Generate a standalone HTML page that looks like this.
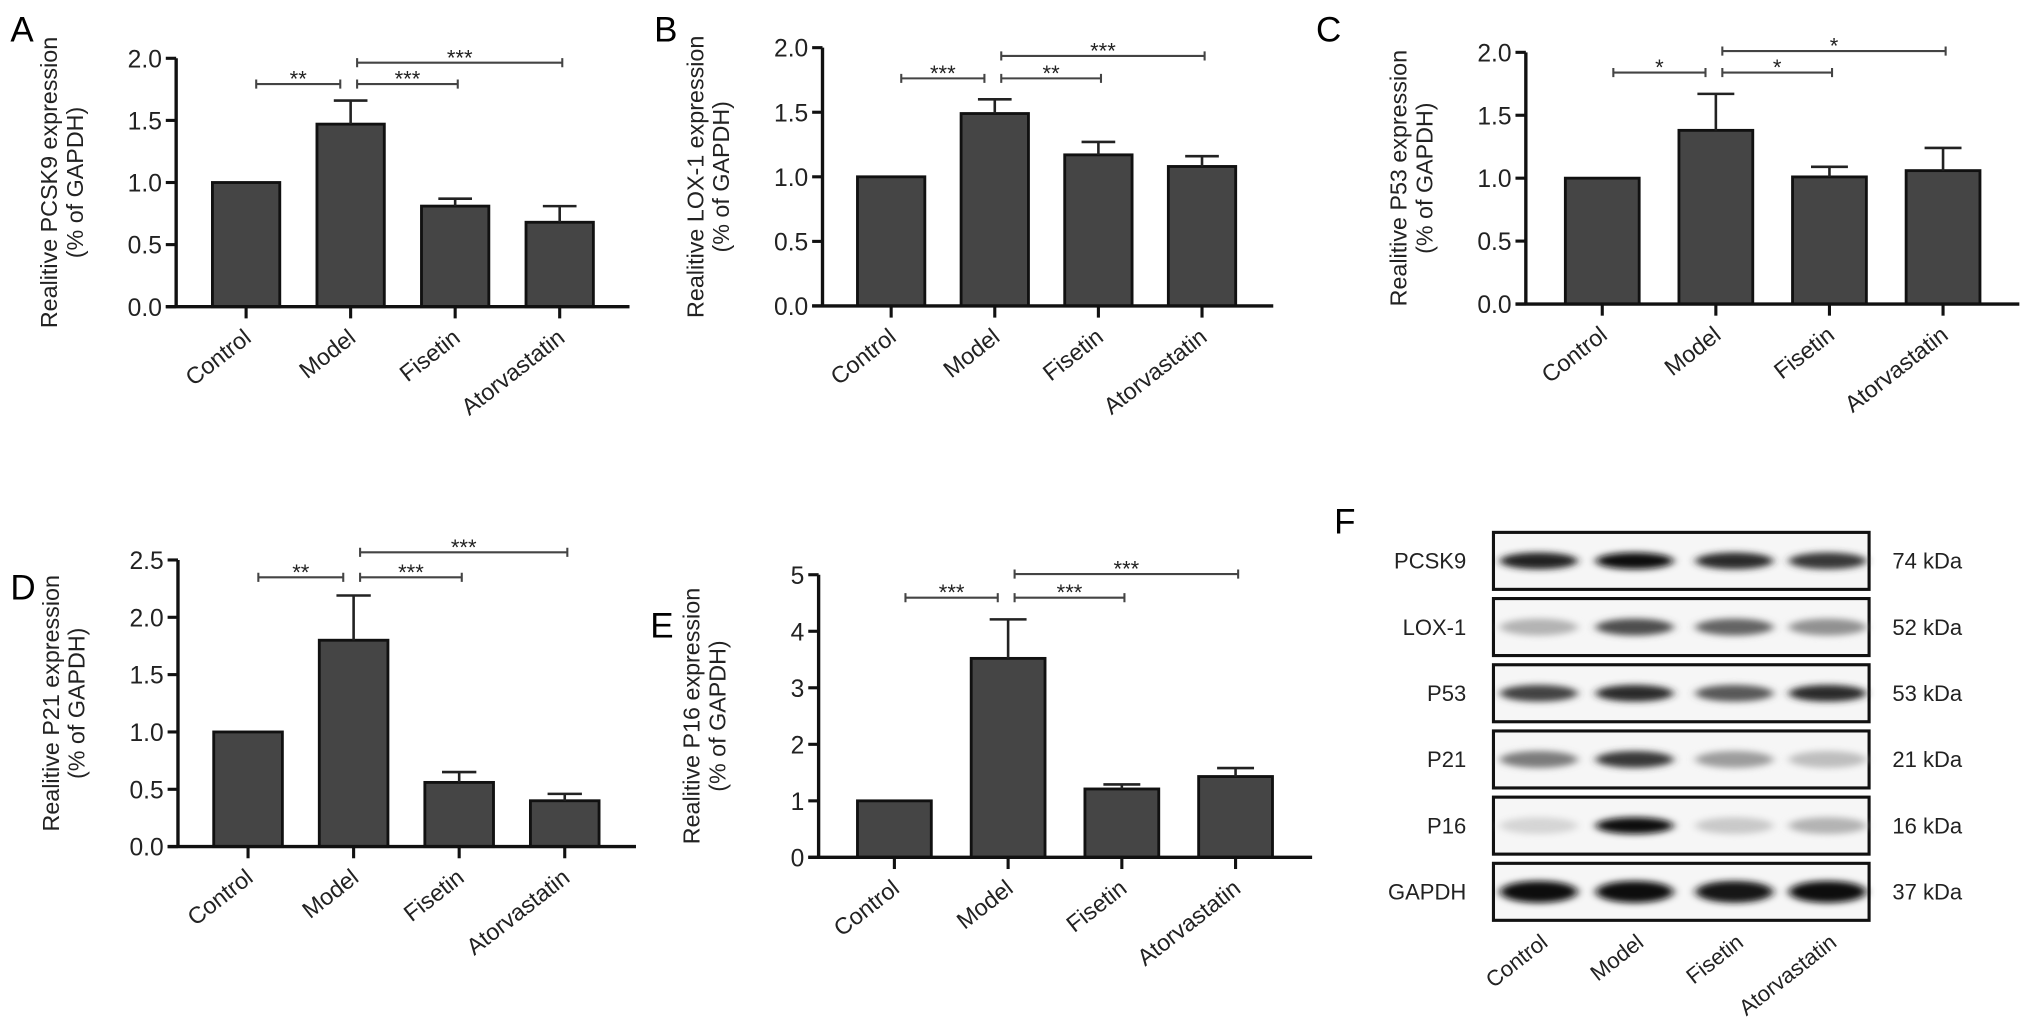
<!DOCTYPE html>
<html><head><meta charset="utf-8"><style>
html,body{margin:0;padding:0;background:#fff;}
svg{display:block;font-family:"Liberation Sans",Arial,sans-serif;}
</style></head><body>
<svg id="fig" width="2031" height="1029" viewBox="0 0 1568 794.4" preserveAspectRatio="none"></svg>
<script>
const categories = ["Control","Model","Fisetin","Atorvastatin"];
const valuesA = [1.0, 1.47, 0.81, 0.68];
const errorsA = [0, 0.19, 0.06, 0.13];
const valuesB = [1.0, 1.49, 1.17, 1.08];
const errorsB = [0, 0.11, 0.10, 0.08];
const valuesC = [1.0, 1.38, 1.01, 1.06];
const errorsC = [0, 0.29, 0.08, 0.18];
const valuesD = [1.0, 1.80, 0.56, 0.40];
const errorsD = [0, 0.39, 0.09, 0.06];
const valuesE = [1.0, 3.52, 1.21, 1.43];
const errorsE = [0, 0.69, 0.08, 0.15];
const ticksA = ["0.0","0.5","1.0","1.5","2.0"];
const ticksD = ["0.0","0.5","1.0","1.5","2.0","2.5"];
const ticksE = ["0","1","2","3","4","5"];
const sigA = ["**","***","***"];
const sigB = ["***","**","***"];
const sigC = ["*","*","*"];
const sigD = ["**","***","***"];
const sigE = ["***","***","***"];
const blotRows = ["PCSK9","LOX-1","P53","P21","P16","GAPDH"];
const blotKDa = ["74 kDa","52 kDa","53 kDa","21 kDa","16 kDa","37 kDa"];
const blotIntensity = [
  [0.9,1.0,0.85,0.8],
  [0.25,0.7,0.6,0.4],
  [0.75,0.85,0.65,0.85],
  [0.5,0.8,0.35,0.2],
  [0.1,1.0,0.15,0.25],
  [1.0,1.0,0.95,1.0]
];

const NS="http://www.w3.org/2000/svg";
const svg=document.getElementById('fig');
function mk(tag,attrs,parent,text){const e=document.createElementNS(NS,tag);for(const k in attrs)e.setAttribute(k,attrs[k]);if(text!==undefined)e.textContent=text;(parent||svg).appendChild(e);return e;}

function panel(cfg){
  const g=mk('g',{});
  
  
  const yS=v=>cfg.y0-(v/cfg.yMax)*(cfg.y0-cfg.yTop);
  const xS=i=>cfg.c0+i*cfg.step;
  const lt=mk('text',{x:cfg.lx,y:cfg.ly,'font-size':27,fill:'#000'},g,cfg.id);
  
  
  const yc=(cfg.y0+cfg.yTop)/2;
  const t1=mk('text',{x:0,y:0,'font-size':18,'text-anchor':'middle',fill:'#222',transform:`translate(${cfg.ax-92},${yc}) rotate(-90)`},g,cfg.title);
  
  
  const t2=mk('text',{x:0,y:0,'font-size':18,'text-anchor':'middle',fill:'#222',transform:`translate(${cfg.ax-72},${yc}) rotate(-90)`},g,'(% of GAPDH)');
  
  
  cfg.vals.forEach((v,i)=>{
    const cx=xS(i);
    const b=mk('rect',{x:cx-cfg.bw/2,y:yS(v),width:cfg.bw,height:cfg.y0-yS(v),fill:'#454545',stroke:'#111','stroke-width':2.2},g);
    
    
    if(cfg.errs[i]>0){
      const top=yS(v+cfg.errs[i]);
      const e=mk('path',{d:`M${cx},${yS(v)}V${top}M${cx-cfg.bw*0.25},${top}H${cx+cfg.bw*0.25}`,stroke:'#222','stroke-width':2,fill:'none'},g);
      
      
    }
    const tk=mk('line',{x1:cx,x2:cx,y1:cfg.y0,y2:cfg.y0+9,stroke:'#111','stroke-width':2.4},g);
    
    
    const lb=mk('text',{x:0,y:0,'font-size':18,'text-anchor':'end',fill:'#222',transform:`translate(${cx+5},${cfg.y0+26}) rotate(-38)`},g,categories[i]);
    
    
  });
  const ax=mk('path',{d:`M${cfg.ax},${cfg.yTop}V${cfg.y0}M${cfg.ax-8},${cfg.y0}H${cfg.axEnd}`,stroke:'#111','stroke-width':2.6,fill:'none'},g);
  
  
  cfg.ticks.forEach((t,i)=>{
    const v=i*cfg.yMax/(cfg.ticks.length-1);
    const y=yS(v);
    const l=mk('line',{x1:cfg.ax-8,x2:cfg.ax,y1:y,y2:y,stroke:'#111','stroke-width':2.4},g);
    
    
    const tt=mk('text',{x:cfg.ax-11,y:y+7,'font-size':19,'text-anchor':'end',fill:'#222'},g,t);
    
    
  });
  const br=[[0,1,cfg.b1],[1,2,cfg.b1],[1,3,cfg.b2]];
  br.forEach((b,k)=>{
    const x1=k===0?xS(0)+cfg.bw*0.15:xS(1)+5;
    const x2=k===0?xS(1)-8:xS(b[1])+2;
    const y=b[2];
    const p=mk('path',{d:`M${x1},${y}H${x2}M${x1},${y-3.5}V${y+3.5}M${x2},${y-3.5}V${y+3.5}`,stroke:'#444','stroke-width':1.6,fill:'none'},g);
    
    
    const s=mk('text',{x:(x1+x2)/2,y:y+2,'font-size':17,'text-anchor':'middle',fill:'#222'},g,cfg.sig[k]);
    
    
  });
}

panel({id:'A',lx:8,ly:32,ax:136,axEnd:486,y0:236.8,yTop:45,yMax:2,c0:190,step:80.7,bw:52,vals:valuesA,errs:errorsA,ticks:ticksA,title:'Realitive PCSK9 expression',sig:sigA,b1:64.9,b2:48.4});
panel({id:'B',lx:505,ly:32,ax:635,axEnd:983,y0:236.2,yTop:36.8,yMax:2,c0:688,step:80,bw:52,vals:valuesB,errs:errorsB,ticks:ticksA,title:'Realitive LOX-1 expression',sig:sigB,b1:60.5,b2:43.2});
panel({id:'C',lx:1016,ly:32,ax:1178,axEnd:1559,y0:234.7,yTop:40.4,yMax:2,c0:1237,step:87.7,bw:57,vals:valuesC,errs:errorsC,ticks:ticksA,title:'Realitive P53 expression',sig:sigC,b1:56,b2:39.4});
panel({id:'D',lx:8,ly:463,ax:137.4,axEnd:491,y0:653.6,yTop:432.3,yMax:2.5,c0:191.5,step:81.5,bw:53,vals:valuesD,errs:errorsD,ticks:ticksD,title:'Realitive P21 expression',sig:sigD,b1:445.7,b2:426.4});
panel({id:'E',lx:502,ly:492,ax:632,axEnd:1013,y0:661.9,yTop:443.7,yMax:5,c0:690.5,step:87.8,bw:57,vals:valuesE,errs:errorsE,ticks:ticksE,title:'Realitive P16 expression',sig:sigE,b1:461.4,b2:443.2});

(function(){
  const g=mk('g',{});
  
  
  const defs=mk('defs',{},g);
  const f=mk('filter',{id:'blur',x:'-30%',y:'-100%',width:'160%',height:'300%'},defs);
  mk('feGaussianBlur',{stdDeviation:'3.5 2.5'},f);
  const lt=mk('text',{x:1030,y:412,'font-size':27,fill:'#000'},g,'F');
  
  
  const lanes=[1188,1262,1339,1411];
  const bx=1153,bw=290,top0=411,bh=44,pitch=51.1;
  blotRows.forEach((r,i)=>{
    const y=top0+i*pitch;
    const box=mk('rect',{x:bx,y:y,width:bw,height:bh,fill:'#f6f6f6',stroke:'#111','stroke-width':2.4},g);
    
    
    lanes.forEach((lx,j)=>{
      const it=blotIntensity[i][j];
      const c=Math.round(235-it*225);
      const band=mk('ellipse',{cx:lx,cy:y+bh/2,rx:30,ry:i===5?8.5:6.5,fill:`rgb(${c},${c},${c})`,filter:'url(#blur)'},g);
      
      
    });
    const rl=mk('text',{x:1132,y:y+bh/2+6,'font-size':17,'text-anchor':'end',fill:'#222'},g,r);
    
    
    const kl=mk('text',{x:1461,y:y+bh/2+6,'font-size':17,fill:'#222'},g,blotKDa[i]);
    
    
  });
  lanes.forEach((lx,j)=>{
    const t=mk('text',{x:0,y:0,'font-size':17,'text-anchor':'end',fill:'#222',transform:`translate(${lx+8},${top0+5*pitch+bh+19}) rotate(-38)`},g,categories[j]);
    
    
  });
})();
</script>
</body></html>
